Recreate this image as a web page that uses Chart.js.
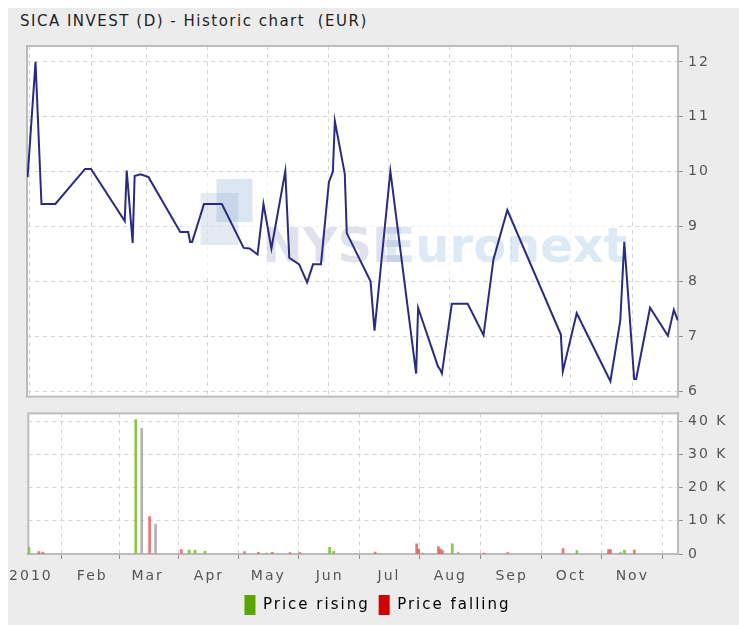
<!DOCTYPE html>
<html>
<head>
<meta charset="utf-8">
<script src="https://cdn.jsdelivr.net/npm/chart.js@4.4.1/dist/chart.umd.min.js"></script>
<style>
  body { margin: 0; background: #fff; overflow: hidden; width: 739px; height: 625px; }
  #panel { position: absolute; left: 8px; top: 8px; width: 731px; height: 617px; background: #ececec; }
  #title { position: absolute; left: 20px; top: 12px; font: 15px "DejaVu Sans", sans-serif; letter-spacing: 1.5px; color: #1e1e1e; white-space: pre; }
  canvas { position: absolute; left: 0; }
  #priceChart { top: 0; }
  #volumeChart { top: 400px; }
</style>
</head>
<body>
<div id="panel"></div>
<div id="title">SICA INVEST (D) - Historic chart  (EUR)</div>
<canvas id="priceChart" width="739" height="410"></canvas>
<canvas id="volumeChart" width="739" height="225"></canvas>
<script>
// x axis: month starts and their labels
const monthStarts = ['2010-01-01', '2010-02-01', '2010-03-01', '2010-04-01', '2010-05-01', '2010-06-01',
  '2010-07-01', '2010-08-01', '2010-09-01', '2010-10-01', '2010-11-01'];
const monthLabels = ['2010', 'Feb', 'Mar', 'Apr', 'May', 'Jun', 'Jul', 'Aug', 'Sep', 'Oct', 'Nov'];

// closing price (EUR)
const priceDates = ['2009-12-31', '2010-01-04', '2010-01-07', '2010-01-14', '2010-01-29', '2010-02-01',
  '2010-02-18', '2010-02-19', '2010-02-22', '2010-02-23', '2010-02-26', '2010-03-02', '2010-03-18',
  '2010-03-22', '2010-03-23', '2010-03-24', '2010-03-30', '2010-04-08', '2010-04-19', '2010-04-22',
  '2010-04-26', '2010-04-29', '2010-05-03', '2010-05-10', '2010-05-12', '2010-05-17', '2010-05-21',
  '2010-05-24', '2010-05-28', '2010-06-01', '2010-06-03', '2010-06-04', '2010-06-09', '2010-06-10',
  '2010-06-22', '2010-06-24', '2010-07-02', '2010-07-15', '2010-07-16', '2010-07-26', '2010-07-27',
  '2010-07-28', '2010-08-02', '2010-08-10', '2010-08-18', '2010-08-23', '2010-08-30', '2010-09-26',
  '2010-09-27', '2010-10-04', '2010-10-21', '2010-10-26', '2010-10-28', '2010-11-02', '2010-11-03',
  '2010-11-10', '2010-11-19', '2010-11-22', '2010-11-24'];
const prices = [9.90, 12.0, 9.41, 9.41, 10.05, 10.05,
  9.10, 10.02, 8.70, 9.92, 9.95, 9.90, 8.90,
  8.90, 8.72, 8.72, 9.41, 9.41, 8.61, 8.60,
  8.49, 9.41, 8.60, 10.01, 8.43, 8.31, 7.98,
  8.31, 8.31, 9.81, 10.0, 10.92, 9.96, 8.88,
  8.0, 7.10, 10.01, 6.32, 7.52, 6.45, 6.40,
  6.32, 7.59, 7.59, 7.02, 8.40, 9.30, 7.03,
  6.36, 7.42, 6.18, 7.29, 8.72, 6.22, 6.22,
  7.52, 7.01, 7.48, 7.29];
const priceTicks = [6, 7, 8, 9, 10, 11, 12];

// traded volume
const risingDates = ['2009-12-31', '2010-02-23', '2010-03-22', '2010-03-25', '2010-03-30', '2010-04-30',
  '2010-06-01', '2010-06-03', '2010-07-18', '2010-08-02', '2010-10-04', '2010-10-26', '2010-10-28'];
const risingVolumes = [2000, 40500, 1200, 1200, 800, 300, 2000, 800, 300, 3100, 1000, 400, 1200];
const fallingDates = ['2010-01-05', '2010-01-07', '2010-03-02', '2010-03-18', '2010-04-19', '2010-04-26',
  '2010-05-03', '2010-05-12', '2010-05-17', '2010-06-24', '2010-07-15', '2010-07-16', '2010-07-26',
  '2010-07-27', '2010-07-28', '2010-08-18', '2010-08-30', '2010-09-27', '2010-10-20', '2010-10-21', '2010-11-02'];
const fallingVolumes = [700, 600, 11300, 1300, 700, 500, 500, 400, 400, 600, 3100, 1500, 2200,
  1500, 1000, 300, 400, 1600, 1300, 1300, 1200];
const flatDates = ['2010-02-26', '2010-03-05', '2010-08-05'];
const flatVolumes = [37900, 9000, 600];
const volumeTicks = [0, 10000, 20000, 30000, 40000];

const legendNames = ['Price rising', 'Price falling'];

const dayOf = d => (Date.parse(d) - Date.parse('2010-01-01')) / 86400000;
const pairs = (dates, values) => dates.map((d, i) => ({ x: dayOf(d), y: values[i] }));
const monthTicks = axis => { axis.ticks = monthStarts.map(d => ({ value: dayOf(d) })); };

const tickFont = { family: '"DejaVu Sans", sans-serif', size: 14 };
const gridColor = '#d4d4d4';
const axisColor = '#8e8e8e';
const xMin = -1.3, xMax = 327.1;

// white plot area, grey frame, wide letter spacing
const panelPlugin = {
  id: 'panel',
  beforeLayout(chart) { chart.ctx.letterSpacing = '2px'; },
  beforeDraw(chart) {
    const { ctx, chartArea: a } = chart;
    ctx.letterSpacing = '2px';
    ctx.save();
    ctx.fillStyle = '#fff';
    ctx.fillRect(a.left, a.top, a.right - a.left, a.bottom - a.top);
    ctx.restore();
  },
  beforeDatasetsDraw(chart) {
    const { ctx, chartArea: a } = chart;
    ctx.save();
    ctx.strokeStyle = '#bcbcbc';
    ctx.lineWidth = 2;
    ctx.strokeRect(a.left, a.top, a.right - a.left, a.bottom - a.top);
    ctx.restore();
  }
};

// faint exchange logo behind the price line
const watermarkPlugin = {
  id: 'watermark',
  beforeDatasetsDraw(chart) {
    const { ctx, chartArea: a } = chart;
    const cx = (a.left + a.right) / 2;
    ctx.save();
    ctx.letterSpacing = '0px';
    ctx.fillStyle = 'rgba(255,255,255,0.6)';
    ctx.fillRect(cx - 168, 175, 432, 100);
    ctx.fillStyle = 'rgba(90,140,200,0.22)';
    ctx.fillRect(cx - 136, 179, 36, 43);
    ctx.fillStyle = 'rgba(120,150,190,0.2)';
    ctx.fillRect(cx - 152, 193, 38, 52);
    ctx.font = 'bold 48px "DejaVu Sans", sans-serif';
    ctx.textBaseline = 'alphabetic';
    ctx.fillStyle = 'rgba(110,125,170,0.22)';
    ctx.fillText('NYSE', cx - 90, 262);
    ctx.fillStyle = 'rgba(120,170,215,0.25)';
    ctx.fillText('Euronext', cx + 30, 262);
    ctx.restore();
  }
};

new Chart(document.getElementById('priceChart'), {
  type: 'line',
  data: {
    datasets: [{
      data: pairs(priceDates, prices),
      borderColor: '#2a2a82',
      borderWidth: 2,
      pointRadius: 0,
      tension: 0
    }]
  },
  options: {
    responsive: false,
    animation: false,
    layout: { padding: { left: 27, top: 46, right: 11, bottom: 9 } },
    plugins: { legend: { display: false }, tooltip: { enabled: false } },
    scales: {
      x: {
        type: 'linear', min: xMin, max: xMax,
        afterBuildTicks: monthTicks,
        afterFit: s => { s.height = 0; },
        ticks: { display: false },
        grid: { color: gridColor, drawTicks: false },
        border: { display: false, dash: [4, 4] }
      },
      y: {
        position: 'right', min: 5.9, max: 12.29,
        afterBuildTicks: axis => { axis.ticks = priceTicks.map(v => ({ value: v })); },
        afterFit: s => { s.width = 50; },
        ticks: { padding: 5, color: '#555', font: tickFont },
        grid: { color: gridColor, tickColor: axisColor, tickLength: 5 },
        border: { color: axisColor, width: 2, dash: [4, 4] }
      }
    }
  },
  plugins: [panelPlugin, watermarkPlugin]
});

new Chart(document.getElementById('volumeChart'), {
  type: 'bar',
  data: {
    datasets: [
      { data: pairs(risingDates, risingVolumes), backgroundColor: 'rgba(110,190,35,0.85)', barThickness: 2, grouped: false },
      { data: pairs(fallingDates, fallingVolumes), backgroundColor: 'rgba(232,80,80,0.8)', barThickness: 2, grouped: false },
      { data: pairs(flatDates, flatVolumes), backgroundColor: 'rgba(165,165,165,0.85)', barThickness: 2, grouped: false }
    ]
  },
  options: {
    responsive: false,
    animation: false,
    layout: { padding: { left: 27, top: 11, right: 11, bottom: 0 } },
    plugins: {
      tooltip: { enabled: false },
      legend: {
        position: 'bottom',
        labels: {
          boxWidth: 11, boxHeight: 20, padding: 9, color: '#1e1e1e',
          font: { family: '"DejaVu Sans", sans-serif', size: 15 },
          generateLabels: () => legendNames.map((name, i) => ({
            text: name,
            fillStyle: ['#5aa500', '#d40000'][i],
            strokeStyle: ['#5aa500', '#d40000'][i],
            lineWidth: 0,
            hidden: false,
            datasetIndex: i
          }))
        }
      }
    },
    scales: {
      x: {
        type: 'linear', offset: false, min: xMin, max: xMax,
        afterFit: s => { s.height = 32; },
        afterBuildTicks: monthTicks,
        ticks: {
          autoSkip: false, maxRotation: 0, padding: 9, color: '#555', font: tickFont,
          callback: (v, i) => monthLabels[i]
        },
        grid: { color: gridColor, tickColor: axisColor, tickLength: 5 },
        border: { color: axisColor, width: 2, dash: [4, 4] }
      },
      y: {
        position: 'right', min: 0, max: 42400,
        afterBuildTicks: axis => { axis.ticks = volumeTicks.map(v => ({ value: v })); },
        afterFit: s => { s.width = 50; },
        ticks: {
          padding: 5, color: '#555', font: tickFont,
          callback: v => v === 0 ? '0' : (v / 1000) + ' K'
        },
        grid: { color: gridColor, tickColor: axisColor, tickLength: 5 },
        border: { color: axisColor, width: 2, dash: [4, 4] }
      }
    }
  },
  plugins: [panelPlugin]
});
</script>
</body>
</html>
